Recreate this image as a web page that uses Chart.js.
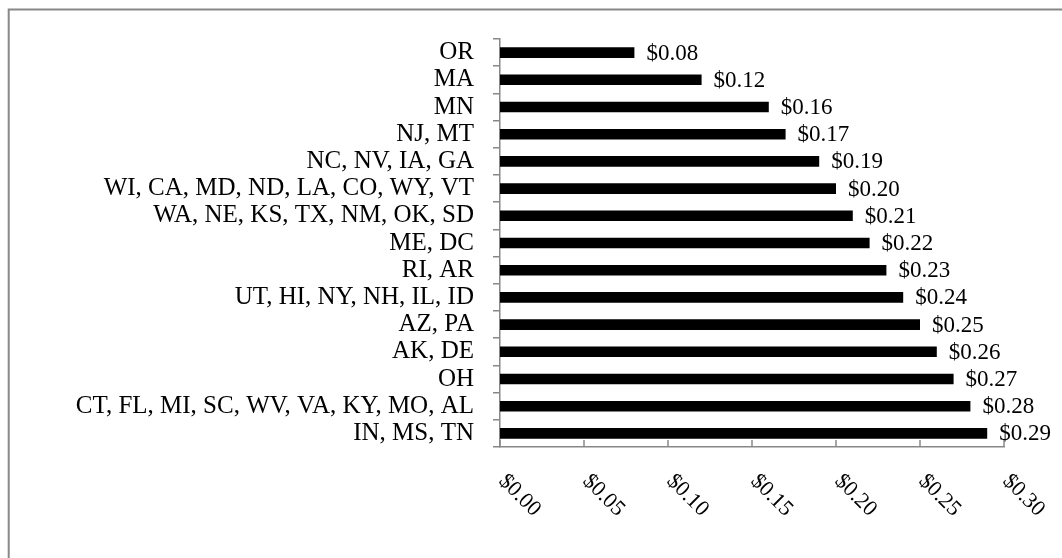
<!DOCTYPE html>
<html>
<head>
<meta charset="utf-8">
<script src="https://cdn.jsdelivr.net/npm/chart.js@4/dist/chart.umd.min.js"></script>
<style>
  html, body { margin: 0; padding: 0; background: #fff; }
  #wrap { width: 1062px; height: 558px; position: relative; }
</style>
</head>
<body>
<div id="wrap"><canvas id="c" width="1062" height="558"></canvas></div>
<script>
// Groups of states sharing the same rate
const categories = [
  'OR', 'MA', 'MN', 'NJ, MT', 'NC, NV, IA, GA',
  'WI, CA, MD, ND, LA, CO, WY, VT', 'WA, NE, KS, TX, NM, OK, SD',
  'ME, DC', 'RI, AR', 'UT, HI, NY, NH, IL, ID', 'AZ, PA', 'AK, DE',
  'OH', 'CT, FL, MI, SC, WV, VA, KY, MO, AL', 'IN, MS, TN'
];
const rates = [0.08, 0.12, 0.16, 0.17, 0.19, 0.20, 0.21, 0.22, 0.23, 0.24, 0.25, 0.26, 0.27, 0.28, 0.29];
const xMin = 0;
const xMax = 0.30;
const xStep = 0.05;

const FONT = '"Liberation Serif", "Times New Roman", serif';
const AXIS_GREY = '#888888';
const money = v => '$' + v.toFixed(2);

// Outer frame, upward x tick marks, rotated x labels and value labels
const decorations = {
  id: 'decorations',
  beforeDraw(chart) {
    const ctx = chart.ctx;
    ctx.save();
    ctx.strokeStyle = AXIS_GREY;
    ctx.lineWidth = 2;
    ctx.beginPath();
    ctx.moveTo(8.7, chart.height);
    ctx.lineTo(8.7, 9.5);
    ctx.lineTo(chart.width, 9.5);
    ctx.stroke();
    ctx.restore();
  },
  afterDraw(chart) {
    const ctx = chart.ctx;
    const xs = chart.scales.x;
    const area = chart.chartArea;
    ctx.save();
    // tick marks pointing up from the x axis
    ctx.strokeStyle = AXIS_GREY;
    ctx.lineWidth = 1.5;
    xs.ticks.forEach(t => {
      const px = xs.getPixelForValue(t.value);
      ctx.beginPath();
      ctx.moveTo(px, area.bottom);
      ctx.lineTo(px, area.bottom - 7);
      ctx.stroke();
    });
    // rotated x tick labels
    ctx.fillStyle = '#000';
    ctx.font = '22px ' + FONT;
    ctx.textAlign = 'left';
    ctx.textBaseline = 'middle';
    xs.ticks.forEach(t => {
      const px = xs.getPixelForValue(t.value);
      ctx.save();
      ctx.translate(px + 2, area.bottom + 31);
      ctx.rotate(Math.PI / 4);
      ctx.fillText(money(t.value), 0, 0);
      ctx.restore();
    });
    // value labels at bar ends
    ctx.font = '23px ' + FONT;
    const meta = chart.getDatasetMeta(0);
    meta.data.forEach((bar, i) => {
      ctx.fillText(money(rates[i]), bar.x + 12, bar.y + 1);
    });
    ctx.restore();
  }
};

new Chart(document.getElementById('c'), {
  type: 'bar',
  data: {
    labels: categories,
    datasets: [{
      data: rates,
      backgroundColor: '#000',
      borderWidth: 0,
      barPercentage: 0.39,
      categoryPercentage: 1
    }]
  },
  options: {
    indexAxis: 'y',
    responsive: false,
    animation: false,
    layout: { padding: { top: 39, right: 58, bottom: 0, left: 0 } },
    plugins: { legend: { display: false }, tooltip: { enabled: false } },
    scales: {
      x: {
        min: xMin,
        max: xMax,
        ticks: { display: false, stepSize: xStep },
        grid: { display: false },
        border: { display: true, color: AXIS_GREY, width: 1.5 },
        afterFit(s) { s.height = 111; }
      },
      y: {
        grid: { offset: true, drawOnChartArea: false, drawTicks: true, tickLength: 7, color: AXIS_GREY, lineWidth: 1.5 },
        border: { display: true, color: AXIS_GREY, width: 1.5 },
        ticks: { color: '#000', font: { family: FONT, size: 25 }, padding: 19, autoSkip: false },
        afterFit(s) { s.width = 500; }
      }
    }
  },
  plugins: [decorations]
});
</script>
</body>
</html>
